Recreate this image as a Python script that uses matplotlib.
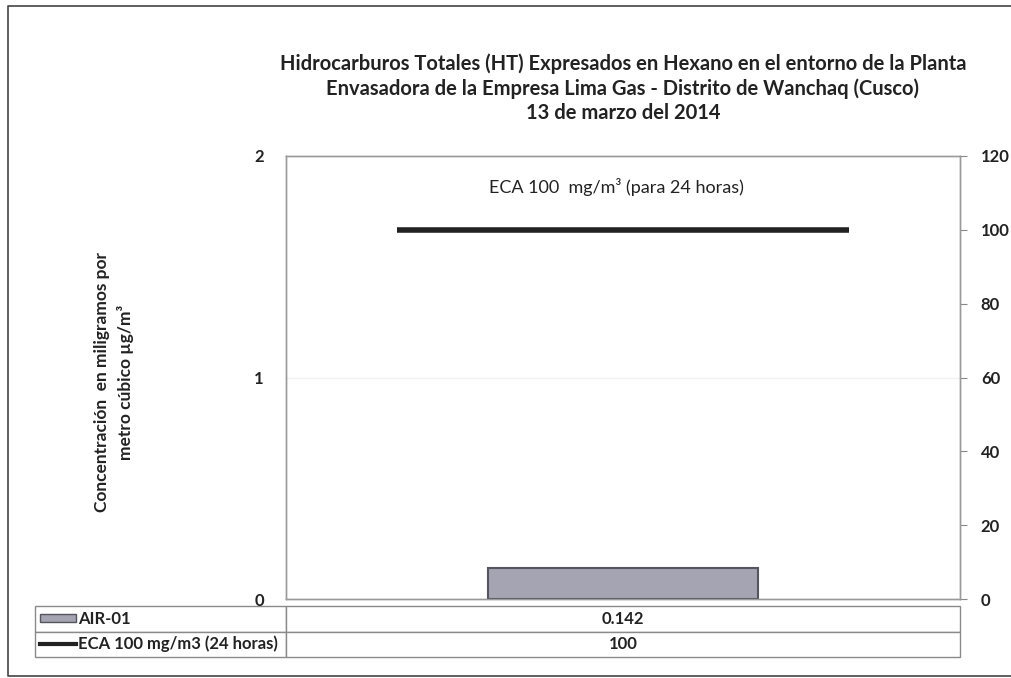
import matplotlib.pyplot as plt
from matplotlib.lines import Line2D
from matplotlib.patches import Rectangle

plt.rcParams['font.family'] = ['Lato', 'DejaVu Sans']

# Datos
categorias = ['AIR-01']
concentracion = [0.142]      # eje izquierdo (mg/m3)
eca = [100]                  # eje derecho
etiquetas = ['AIR-01', 'ECA 100 mg/m3 (24 horas)']
valores_tabla = ['0.142', '100']

W, H = 1011, 678
fig = plt.figure(figsize=(W / 100, H / 100), dpi=100)


def fx(px):
    return px / W


def fy(py):
    return 1 - py / H


# marco exterior (izquierda, arriba y abajo)
fig.lines.append(Line2D([fx(1011), fx(8), fx(8), fx(1011)], [fy(6), fy(6), fy(676), fy(676)],
                        transform=fig.transFigure, color='#444444', linewidth=1.2))

ax = fig.add_axes([fx(286), fy(599), fx(960) - fx(286), fy(156) - fy(599)])
ax2 = ax.twinx()

x = list(range(len(categorias)))
ax.bar(x, concentracion, width=0.4, color='#a4a4b2', edgecolor='#55555f', linewidth=1.5, zorder=3)
ax.set_xlim(-0.5, 0.5)
ax.set_ylim(0, 2)
ax.set_yticks([0, 1, 2], labels=['0', '1', '2'], fontweight='bold')
ax.set_xticks([])
ax.axhline(1, color='#f2f2f2', linewidth=1, zorder=1)

for xi, v in zip(x, eca):
    ax2.hlines(v, xi - 0.335, xi + 0.335, color='#222222', linewidth=4, zorder=4)
ax2.set_ylim(0, 120)
ticks_der = list(range(0, 121, 20))
ax2.set_yticks(ticks_der, labels=[str(t) for t in ticks_der], fontweight='bold')

for a in (ax, ax2):
    for s in a.spines.values():
        s.set_color('#9a9a9a')
        s.set_linewidth(1)

ax.tick_params(axis='y', length=0, pad=16, labelsize=12, labelcolor='#222222')
ax2.tick_params(axis='y', length=5, color='#888888', pad=10, labelsize=12, labelcolor='#222222')

ax.text(0.49, 0.93, 'ECA 100  mg/m³ (para 24 horas)', transform=ax.transAxes,
        ha='center', va='center', fontsize=13, color='#222222')

fig.text(fx(623), fy(88),
         'Hidrocarburos Totales (HT) Expresados en Hexano en el entorno de la Planta\n'
         'Envasadora de la Empresa Lima Gas - Distrito de Wanchaq (Cusco)\n'
         '13 de marzo del 2014',
         ha='center', va='center', fontsize=14.5, fontweight='bold',
         color='#222222', linespacing=1.25)

fig.text(fx(114), fy(382), 'Concentración  en miligramos por\nmetro cúbico µg/m³',
         rotation=90, ha='center', va='center', fontsize=12.5, fontweight='bold',
         color='#222222', linespacing=1.55)

# tabla de datos
filas = [['', v] for v in valores_tabla]
tx0, tx1, ty0, ty1 = 35, 960, 606, 657
bbox = [(tx0 - 286) / 674, (599 - ty1) / 443, (tx1 - tx0) / 674, (ty1 - ty0) / 443]
tabla = ax.table(cellText=filas, colWidths=[251, 674], cellLoc='center',
                 bbox=bbox)
tabla.auto_set_font_size(False)
for (r, c), cell in tabla.get_celld().items():
    cell.set_edgecolor('#8a8a8a')
    cell.set_linewidth(1)
    cell.get_text().set_fontsize(12)
    cell.get_text().set_fontweight('bold')
    cell.get_text().set_color('#222222')

# simbolos de leyenda y etiquetas de fila
fig.patches.append(Rectangle((fx(40), fy(622)), fx(76) - fx(40), fy(614) - fy(622),
                             transform=fig.transFigure, facecolor='#a4a4b2',
                             edgecolor='#55555f', linewidth=1))
fig.lines.append(Line2D([fx(40), fx(76)], [fy(644), fy(644)], transform=fig.transFigure,
                        color='#222222', linewidth=3))
for py, t in zip([619, 644], etiquetas):
    fig.text(fx(78), fy(py), t, ha='left', va='center', fontsize=12, fontweight='bold',
             color='#222222')

fig.savefig('out.png', dpi=100)
